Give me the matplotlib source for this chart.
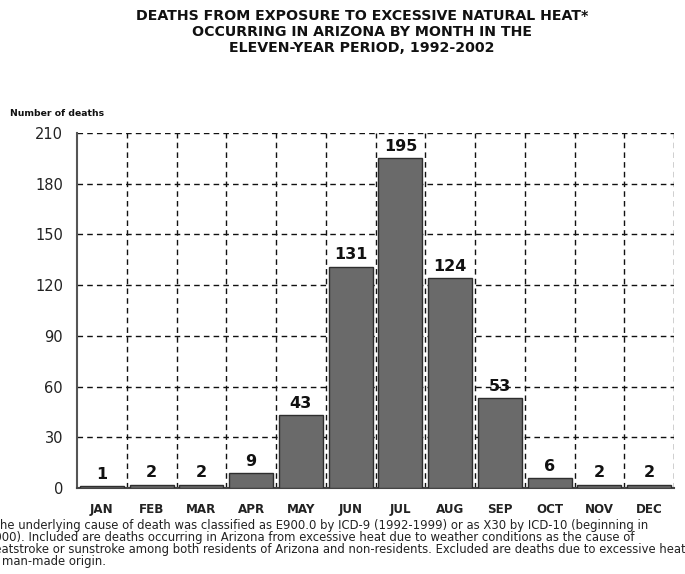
import matplotlib
matplotlib.use("Agg")
import matplotlib.pyplot as plt
import matplotlib.transforms as mtransforms
import numpy as np

# datos
months = ["JAN", "FEB", "MAR", "APR", "MAY", "JUN", "JUL", "AUG", "SEP", "OCT", "NOV", "DEC"]
deaths = [1, 2, 2, 9, 43, 131, 195, 124, 53, 6, 2, 2]
yticks = [0, 30, 60, 90, 120, 150, 180, 210]

title = ("DEATHS FROM EXPOSURE TO EXCESSIVE NATURAL HEAT*\n"
         "OCCURRING IN ARIZONA BY MONTH IN THE\n"
         "ELEVEN-YEAR PERIOD, 1992-2002")
footnote = [
    "*The underlying cause of death was classified as E900.0 by ICD-9 (1992-1999) or as X30 by ICD-10 (beginning in",
    "2000). Included are deaths occurring in Arizona from excessive heat due to weather conditions as the cause of",
    "heatstroke or sunstroke among both residents of Arizona and non-residents. Excluded are deaths due to excessive heat",
    "of man-made origin.",
]

fig = plt.figure(figsize=(6.85, 5.74), dpi=100)
ax = fig.add_axes([77 / 685, 86 / 574, 597 / 685, 355 / 574])

x = np.arange(len(months))
ax.bar(x, deaths, width=0.88, color="#6a6a6a", edgecolor="#2e2e2e", linewidth=1.0, zorder=3)

for xi, v in zip(x, deaths):
    ax.annotate(str(v), (xi, v), xytext=(0, 3), textcoords="offset points",
                ha="center", va="bottom", fontsize=11.5, fontweight="bold", color="#111111", zorder=4)

ax.set_xlim(-0.5, len(months) - 0.5)
ax.set_ylim(0, 210)
ax.set_yticks(yticks)
ax.set_yticklabels([str(t) for t in yticks], fontsize=10.5, color="#222222")
ax.set_xticks(x)
ax.set_xticklabels(months, fontsize=8.6, fontweight="bold", color="#222222")
ax.tick_params(axis="both", length=0)
ax.tick_params(axis="y", pad=10)
ax.tick_params(axis="x", pad=11)

# rejilla punteada
for yv in yticks[1:]:
    ax.axhline(yv, color="#111111", linestyle=(0, (4, 3)), linewidth=1.0, zorder=1)
for b in np.arange(0.5, len(months), 1.0):
    ax.axvline(b, color="#111111", linestyle=(0, (4, 3)), linewidth=1.0, zorder=1)

ax.spines["top"].set_visible(False)
ax.spines["right"].set_visible(False)
ax.spines["left"].set_color("#555555")
ax.spines["left"].set_linewidth(1.5)
ax.spines["bottom"].set_color("#444444")
ax.spines["bottom"].set_linewidth(1.5)

fig.text(362 / 685, 1 - 9 / 574, title, ha="center", va="top", fontsize=10.2, fontweight="bold",
         linespacing=1.18, color="#111111")
fig.text(10 / 685, 1 - 113 / 574, "Number of deaths", ha="left", va="center",
         fontsize=6.7, fontweight="bold", color="#111111")

# la nota al pie sale cortada por la izquierda como en el original
off = mtransforms.offset_copy(fig.transFigure, fig=fig, x=-13, y=0, units="dots")
for i, line in enumerate(footnote):
    fig.text(0, 1 - (526 + i * 12) / 574, line, transform=off, ha="left", va="center",
             fontsize=8.4, color="#222222")

fig.savefig("out.png", dpi=100)
